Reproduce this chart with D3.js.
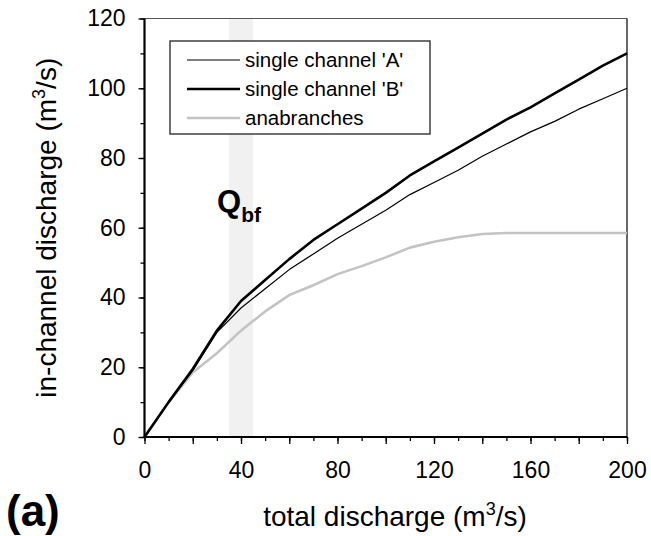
<!DOCTYPE html>
<html>
<head>
<meta charset="utf-8">
<script src="https://cdn.jsdelivr.net/npm/d3@7"></script>
<style>
  body { margin: 0; background: #fff; }
  svg { display: block; font-family: 'Liberation Sans', Arial, sans-serif; }
</style>
</head>
<body>
<div id="chart"></div>
<script>
// total discharge (x) and in-channel discharge for each channel (y)
const totalQ = [0, 10, 20, 30, 40, 50, 60, 70, 80, 90, 100, 110, 120, 130, 140, 150, 160, 170, 180, 190, 200];
const channelA = [0, 10, 19, 30, 37, 42.5, 48, 52.5, 57, 61, 65, 69.5, 73, 76.5, 80.5, 84, 87.5, 90.5, 94, 97, 100];
const channelB = [0, 10, 19.5, 30.5, 39, 45, 51, 56.5, 61, 65.5, 70, 75, 79, 83, 87, 91, 94.5, 98.5, 102.5, 106.5, 110];
const anabranches = [0, 10, 18.5, 24, 30.5, 36, 40.7, 43.5, 46.7, 49, 51.5, 54.3, 56, 57.3, 58.2, 58.5, 58.5, 58.5, 58.5, 58.5, 58.5];
const bankfull = [35, 45];

const seriesNames = ["single channel 'A'", "single channel 'B'", 'anabranches'];
const seriesStyle = [
    { color: '#000', width: 1.2 },
    { color: '#000', width: 2.6 },
    { color: '#c3c3c3', width: 2.6 }
];

const width = 651;
const height = 536;
const margin = { top: 18.5, right: 24, bottom: 99, left: 144.5 };
const plotW = width - margin.left - margin.right;
const plotH = height - margin.top - margin.bottom;

const svg = d3.select('#chart').append('svg')
    .attr('width', width)
    .attr('height', height);

const g = svg.append('g').attr('transform', `translate(${margin.left}, ${margin.top})`);

const x = d3.scaleLinear().domain([0, 200]).range([0, plotW]);
const y = d3.scaleLinear().domain([0, 120]).range([plotH, 0]);

// Qbf band
g.append('rect')
    .attr('x', x(bankfull[0]))
    .attr('y', 0)
    .attr('width', x(bankfull[1]) - x(bankfull[0]))
    .attr('height', plotH)
    .attr('fill', '#f1f1f1');

// frame top / right
g.append('line').attr('x1', 0).attr('x2', plotW).attr('y1', 0).attr('y2', 0)
    .attr('stroke', '#555').attr('stroke-width', 1);
g.append('line').attr('x1', plotW).attr('x2', plotW).attr('y1', 0).attr('y2', plotH)
    .attr('stroke', '#000').attr('stroke-width', 1.2);

const allSeries = [channelA, channelB, anabranches];
const line = d3.line().x((d) => x(d[0])).y((d) => y(d[1]));

// draw grey first so black lines sit on top
[2, 0, 1].forEach((i) => {
    g.append('path')
        .datum(totalQ.map((q, k) => [q, allSeries[i][k]]))
        .attr('fill', 'none')
        .attr('stroke', seriesStyle[i].color)
        .attr('stroke-width', seriesStyle[i].width)
        .attr('stroke-linejoin', 'round')
        .attr('d', line);
});

// axes
const xMinor = d3.range(0, 201, 10);
const xMajor = d3.range(0, 201, 20);
const yMinor = d3.range(0, 121, 10);
const yMajor = d3.range(0, 121, 20);

const styleAxis = (sel) => {
    sel.select('.domain').remove();
    sel.selectAll('line').attr('stroke', '#000').attr('stroke-width', 1.3);
    sel.selectAll('text').attr('font-size', '23px').attr('fill', '#000');
};

g.append('g').attr('transform', `translate(0, ${plotH})`)
    .call(d3.axisBottom(x).tickValues(xMinor).tickSize(4).tickFormat(''))
    .call(styleAxis);
g.append('g').attr('transform', `translate(0, ${plotH})`)
    .call(d3.axisBottom(x).tickValues(xMajor).tickSize(7).tickPadding(18)
        .tickFormat((d) => d % 40 === 0 ? d : ''))
    .call(styleAxis);

g.append('g')
    .call(d3.axisLeft(y).tickValues(yMinor).tickSize(4).tickFormat(''))
    .call(styleAxis);
g.append('g')
    .call(d3.axisLeft(y).tickValues(yMajor).tickSize(6).tickPadding(13))
    .call(styleAxis);

// main axis lines
g.append('line').attr('x1', 0).attr('x2', plotW).attr('y1', plotH).attr('y2', plotH)
    .attr('stroke', '#000').attr('stroke-width', 2.2);
g.append('line').attr('x1', 0).attr('x2', 0).attr('y1', 0).attr('y2', plotH)
    .attr('stroke', '#000').attr('stroke-width', 2.2);

// legend
const legend = svg.append('g').attr('transform', 'translate(170, 41)');
legend.append('rect')
    .attr('width', 260)
    .attr('height', 93)
    .attr('fill', '#fff')
    .attr('stroke', '#222')
    .attr('stroke-width', 1.3);
seriesNames.forEach((name, i) => {
    const row = legend.append('g').attr('transform', `translate(0, ${19 + i * 29})`);
    row.append('line')
        .attr('x1', 17).attr('x2', 70)
        .attr('stroke', seriesStyle[i].color)
        .attr('stroke-width', seriesStyle[i].width);
    row.append('text')
        .attr('x', 75)
        .attr('dy', '0.35em')
        .attr('font-size', '20.5px')
        .text(name);
});

// Qbf label
const qbf = svg.append('text')
    .attr('x', 217)
    .attr('y', 212)
    .attr('font-weight', 'bold')
    .attr('font-size', '31px');
qbf.append('tspan').text('Q');
qbf.append('tspan').attr('font-size', '21px').attr('dy', 10).text('bf');

// axis titles
const xTitle = svg.append('text')
    .attr('x', 395)
    .attr('y', 526)
    .attr('text-anchor', 'middle')
    .attr('font-size', '28px');
xTitle.append('tspan').text('total discharge (m');
xTitle.append('tspan').attr('font-size', '18px').attr('dy', -11).text('3');
xTitle.append('tspan').attr('dy', 11).text('/s)');

const yTitle = svg.append('text')
    .attr('transform', `translate(56, ${margin.top + plotH / 2}) rotate(-90)`)
    .attr('text-anchor', 'middle')
    .attr('font-size', '28px');
yTitle.append('tspan').text('in-channel discharge (m');
yTitle.append('tspan').attr('font-size', '18px').attr('dy', -11).text('3');
yTitle.append('tspan').attr('dy', 11).text('/s)');

// panel label
svg.append('text')
    .attr('x', 6)
    .attr('y', 526)
    .attr('font-weight', 'bold')
    .attr('font-size', '44px')
    .text('(a)');
</script>
</body>
</html>
